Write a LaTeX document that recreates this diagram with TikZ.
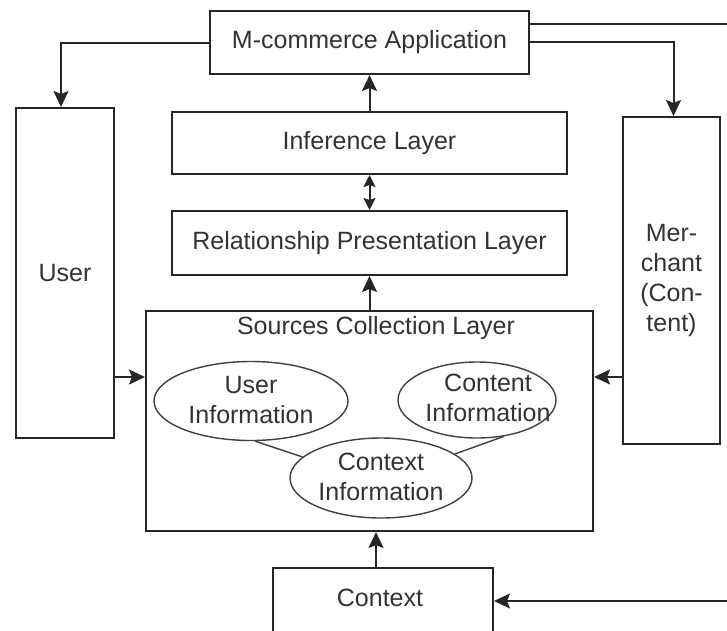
\documentclass[tikz,border=0pt]{standalone}
\usepackage{fontspec}
\setmainfont{Liberation Sans}
\usetikzlibrary{arrows.meta,shapes.geometric,calc}
\begin{document}
\begin{tikzpicture}[x=1pt,y=-1pt,
  every node/.style={font=\fontsize{25}{30}\selectfont, text=black!80},
  box/.style={draw=black!85, line width=2pt, rectangle, inner sep=0pt},
  info/.style={draw=black!75, line width=1.4pt, ellipse, inner sep=0pt},
  infotext/.style={align=center, inner sep=0pt},
  wire/.style={draw=black!85, line width=2pt},
  arr/.style={wire, -{Stealth[length=16pt,width=15pt,inset=3pt]}},
  darr/.style={wire, {Stealth[length=12pt,width=12pt,inset=2pt]}-{Stealth[length=12pt,width=12pt,inset=2pt]}},
  link/.style={draw=black!75, line width=1.4pt}
]
\clip (0,0) rectangle (727,630);
\fill[white] (0,0) rectangle (727,630);

% layers in the middle column
\node[box, minimum width=319, minimum height=63] (app) at (369.5,42.5) {M-commerce Application};
\node[box, minimum width=395, minimum height=62] (infer) at (369.5,143) {Inference Layer};
\node[box, minimum width=395, minimum height=64] (rel) at (369.5,243) {Relationship Presentation Layer};
\node[box, minimum width=447, minimum height=220] (src) at (369.5,421) {};
\node (srctitle) at (376,328) {Sources Collection Layer};

% side actors
\node[box, minimum width=98, minimum height=330] (user) at (65,273) {User};
\node[box, minimum width=97, minimum height=327, align=center] (merch) at (671.5,280.5)
  {Mer-\\chant\\(Con-\\tent)};

% context box running off the bottom edge
\node[box, minimum width=220, minimum height=74, anchor=north] (ctx) at (383,567) {};
\node (ctxlabel) at (380,598) {Context};

% information sources: outlines first, then their captions
\node[info, minimum width=194, minimum height=79] (uinfo) at (251,401) {};
\node[info, minimum width=158, minimum height=76] (cinfo) at (477,400) {};
\node[info, minimum width=182, minimum height=80] (xinfo) at (381,478) {};
\node[infotext] (uinfotext) at (251,400) {User\\Information};
\node[infotext] (cinfotext) at (488,398) {Content\\Information};
\node[infotext] (xinfotext) at (381,477) {Context\\Information};
\draw[link] (uinfo.-84) -- (xinfo.165);
\draw[link] (cinfo.-54) -- (xinfo.18);

% free ends on the right edge
\coordinate (exitTop) at (727,24);
\coordinate (exitBot) at (727,601);

% connectors
\draw[wire] ([yshift=18.5pt]app.east) -- (exitTop);
\draw[arr] ([yshift=1pt]app.east) -| ([xshift=2pt]merch.north);
\draw[arr] (app.west) -| ([xshift=-4pt]user.north);
\draw[arr] (infer.north) -- (app.south);
\draw[darr] (infer.south) -- (rel.north);
\draw[arr] (src.north) -- (rel.south);
\draw[arr] (user.east |- 0,377) -- (src.west |- 0,377);
\draw[arr] (merch.west |- 0,377) -- (src.east |- 0,377);
\draw[arr] ([xshift=-7pt]ctx.north) -- ([xshift=-7pt]ctx.north |- src.south);
\draw[arr] (exitBot) -- (exitBot -| ctx.east);
\end{tikzpicture}
\end{document}
